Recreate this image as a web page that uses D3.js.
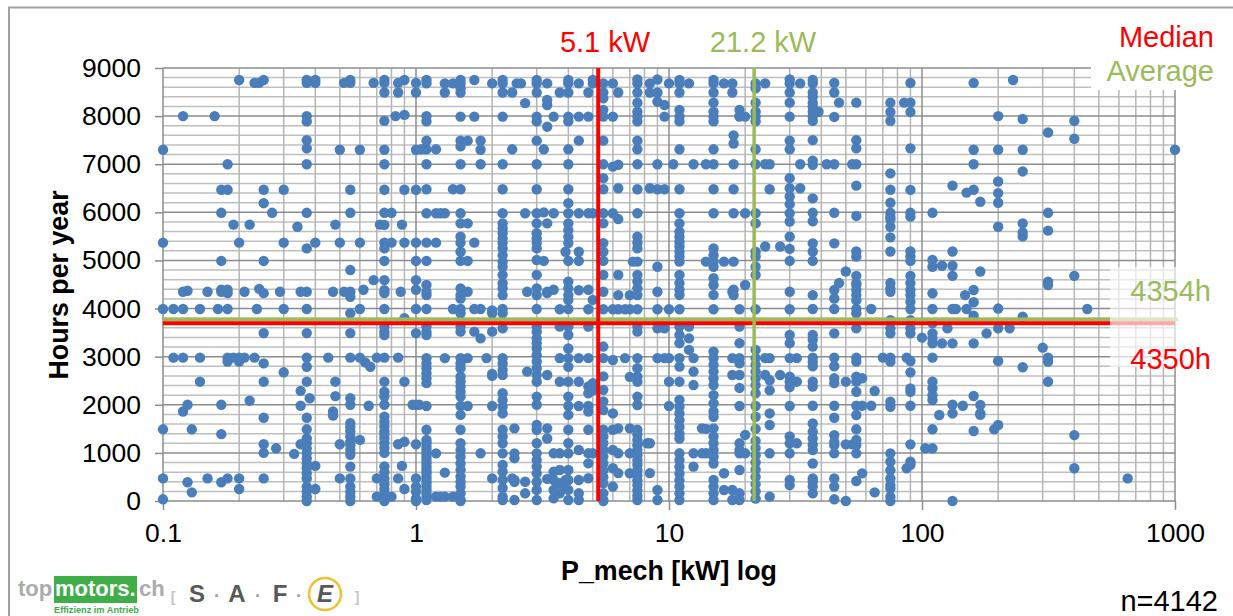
<!DOCTYPE html>
<html>
<head>
<meta charset="utf-8">
<script src="https://d3js.org/d3.v7.min.js"></script>
<style>
  html, body { margin: 0; padding: 0; background: #fff; }
  svg { display: block; }
  text { font-family: "Liberation Sans", Arial, sans-serif; }
  .tick text { fill: #000; font-size: 26.5px; }
  .domain { display: none; }
</style>
</head>
<body>
<svg width="1233" height="616"></svg>
<script>
var yTicks = [0, 1000, 2000, 3000, 4000, 5000, 6000, 7000, 8000, 9000];
var xTicks = [0.1, 1, 10, 100, 1000];
var xTickLabels = ["0.1", "1", "10", "100", "1000"];

var powerKw = [
  0.1, 0.11, 0.12, 0.125, 0.13, 0.14, 0.15, 0.16, 0.165, 0.17,
  0.18, 0.19, 0.2, 0.21, 0.22, 0.23, 0.235, 0.24, 0.25, 0.27,
  0.28, 0.29, 0.3, 0.33, 0.34, 0.35, 0.37, 0.38, 0.4, 0.45,
  0.47, 0.48, 0.5, 0.52, 0.55, 0.6, 0.62, 0.63, 0.65, 0.66,
  0.68, 0.7, 0.72, 0.75, 0.8, 0.83, 0.85, 0.87, 0.88, 0.9,
  0.97, 1, 1.03, 1.05, 1.1, 1.2, 1.25, 1.3, 1.4, 1.5,
  1.6, 1.7, 1.8, 1.9, 2, 2.2, 2.4, 2.45, 2.5, 2.6,
  2.7, 2.75, 3, 3.2, 3.3, 3.5, 3.7, 3.9, 4, 4.4,
  4.8, 5, 5.5, 6, 6.3, 6.7, 7, 7.2, 7.5, 8.2,
  8.4, 9, 9.6, 10, 10.4, 11, 12, 12.5, 13.5, 14,
  15, 16.5, 17.8, 18, 19, 20, 22, 24, 25, 27.5,
  30, 32, 33, 37, 39, 42, 45, 47, 50, 53,
  55, 58, 63, 65, 70, 75, 85, 87, 90, 100,
  103, 110, 117, 120, 126, 132, 136, 145, 148, 150,
  160, 170, 180, 193, 200, 222, 229, 250, 300, 315,
  400, 450, 650, 1000
];

var hoursAtPower = [
  [7300,5370,3990,1490,470,35],
  [3990,2980],
  [8000,4350,3990,2980,1860],
  [4370,2000,390],
  [1490,180],
  [3990,2980,2480],
  [4350,470],
  [8000],
  [3990],
  [6470,5990,4990,4390,4350,2000,1390,390],
  [7000,6470,4390,4320,3990,2980,2900,470],
  [5745,2980],
  [8750,5370,2980,2900,470,250],
  [4350,2980],
  [5745,2085],
  [8690,2980],
  [3990],
  [8690,4410],
  [8750,6470,6190,4990,4320,3490,2860,2480,1730,1180,1000,470],
  [5990],
  [1095],
  [4350],
  [6470,5370,3990,2675],
  [980],
  [5700],
  [4350,2290,1980,1180],
  [8750,8690,8000,7890,7500,7330,7000,5990,5250,4350,3990,3490,2980,2790,2480,1730,1490,1300,1200,1095,990,885,780,680,575,470,300,195,90,0],
  [2135],
  [8750,8690,5370,730,250],
  [2980],
  [4350,1860,1775],
  [5745,2480,2180],
  [7300,5370,1180,470],
  [8690,4350],
  [8750,8690,6470,5990,4800,4350,4245,3900,3490,2980,2135,2000,1615,1540,1450,1340,1230,1160,1060,960,715,470,300,190,90,0],
  [7300,5370,3990,2980,1270],
  [4390],
  [2880],
  [1980],
  [2790],
  [8690,4590],
  [2980,470,90],
  [5745],
  [8750,8690,8490,7900,7300,7000,6470,5990,5740,5370,5250,4990,4590,4380,4320,3990,3620,3520,3450,2980,2480,2270,2170,2000,1750,1650,1550,1450,1380,1300,1200,1100,1000,720,600,470,350,250,150,50,0],
  [5990,5370,90],
  [8000],
  [8690,8490,2980,1180,470],
  [4350],
  [5745,730],
  [8750,8025,6470,5370,3800,2480,1230,250],
  [2000],
  [8690,8490,7300,6470,5370,4990,4590,4390,3990,3490,2000,1180,470,300,190,50,0],
  [2000],
  [7310],
  [8750,8680,8000,7890,7490,7310,7000,6480,5980,5370,4990,4490,4350,4280,3990,3625,3520,3450,2970,2860,2760,2655,2550,2450,1975,1480,1270,1200,1130,1060,990,920,850,780,710,640,575,506,440,370,300,230,160,90,20],
  [7310,5980,5370,990,90],
  [5980,90],
  [8680,8490,5980,2970,590,90],
  [8680,6480,3990,90],
  [8750,8680,8580,8490,7990,7490,7370,7000,6480,5980,5770,5495,5370,5180,4990,4420,4280,4210,3990,3900,3625,3520,2970,2860,2760,2585,2480,2380,2270,2170,1975,1790,1480,1200,1060,920,780,645,506,400,300,160,20,0],
  [7490,5770,4990,4350,2970,1975],
  [8750,7990,5370,3990,3520],
  [7490,7300,7000,3990,3380,991],
  [2970],
  [8680,3960,3900,3520,2640,2600,1975,470],
  [8750,8680,8490,7990,7000,6480,5980,5770,5670,5565,5460,5360,5250,5110,4975,4870,4700,4526,4420,4280,3990,3900,3590,2970,2860,2725,2620,2240,2100,1960,1820,1480,1340,1200,990,750,610,440,270,90,20],
  [8490,7310,470],
  [1510,990,890,440,400,20],
  [8680],
  [8680],
  [8270,5980,400,160],
  [4350,2690],
  [8750,8680,8490,7990,7890,7490,7000,6480,5980,5770,5565,5460,5360,5250,5010,4700,4420,4280,3990,3620,3520,3380,3280,3170,3030,2900,2760,2620,2480,2170,2000,1580,1480,1200,990,850,715,575,400,230,20],
  [7310,4990,6000],
  [8680,8335,8230,7780,5770,4350,4320,2620,1510,1300,460],
  [7990,5980,4390,991,610,437,229,55],
  [8490,3985,3625,2970,2480,991,645,370,160],
  [5180,437,298],
  [8750,8680,8490,7990,7890,7310,7000,6480,6190,5980,5770,5630,5490,5360,4990,4560,4420,4280,4180,3990,3625,3450,3170,2970,2790,2480,2170,1975,1790,1480,1200,991,645,437,230,20],
  [8680,7990,7490,5980,5180,4990,4380,2970,2480,1975,1060,437,160,20],
  [8490,7990,5980,4390,3985,3625,2970,2380,2240,1975,1860,1480,991,783,472],
  [8750,8680,5980,4180,2450,2300,991],
  [8680,8490,8370,8130,7990,7490,7000,6710,6480,5980,5770,5360,5180,4990,4700,4350,3985,3210,2970,2590,2310,2070,1890,1480,1340,1200,1060,920,780,640,500,370,160,20,0],
  [8680,7990,6950,5980,3985,2930,1820,1480,1060,680,300],
  [8490,6990,6500,5860,4700,4280,3985,1510,991,580],
  [3985,2970],
  [4280,3985,1510,991,576,2580],
  [4975],
  [8760,8680,8490,8280,8090,7990,7890,7490,7310,7000,6480,5980,5495,5370,5250,4975,4700,4560,4420,4280,3985,3625,3520,2970,2760,2585,2480,2170,1996,1480,1380,1270,1160,1060,950,850,750,640,530,430,330,220,110,20],
  [1199],
  [8680,8490,6500,1200,580],
  [8760,8490,8300,7000,6480,4870,4350,3985,3590,2970,229,20],
  [8230,7990,6480,3590,2970],
  [8680,3985,2970,2480,1975],
  [7000],
  [8750,8680,8490,8130,7990,7890,7310,6480,5980,5770,5600,5495,5390,5290,5180,5080,4975,4700,4530,4390,4283,3985,3625,3450,3280,2970,2793,2480,2100,1960,1820,1680,1540,1400,1300,991,850,710,570,430,300,160,20],
  [8680,3625,3380,3140],
  [7000,2970,2690,2410,991,715],
  [1510,991],
  [7000,4975,1500,991],
  [8750,8680,8490,8280,8090,7990,7890,7310,7000,6480,5980,5250,5110,4975,4870,4630,4490,4283,3985,3105,2970,2830,2690,2550,2410,2200,2030,1860,1750,1510,1340,1200,1060,920,780,437,300,160,20],
  [8680,4975,576,229],
  [8680,8490,4350,2970,2620,229,20],
  [7600,7430,7000,6480,5980,4975,4390,4280],
  [8130,8000,7990,3985,3625,3280,2970,2860,2620,2350,1975,1199,1061,991,645,160,20],
  [7990,5980,4490,1373,991],
  [8680,8580,8280,8090,7990,7890,7310,7000,5980,5770,5180,5080,4870,4700,3985,3140,2970,2830,2690,2550,2410,2240,1975,1750,1500,1250,1100,950,800,650,500,350,200,50],
  [8680,7000,5290,2970,2620],
  [7000,6480,2970,2510,2300,1820,1580,991,90],
  [5290,2620],
  [8760,8680,8490,8280,7990,7490,7310,6710,6500,6330,6170,5980,5810,5495,5240,4990,4350,3985,3450,3280,2970,2585,2480,2370,1975,1340,1199,991,440,330],
  [2970,2480,1199],
  [8680,7000,6500],
  [8750,8680,8490,8400,8280,8200,8090,7990,7900,7500,7075,6985,6290,5990,5815,5355,5185,4990,4280,3990,3450,3350,3210,2980,2890,2800,2480,2380,1980,1610,1440,1300,1170,1060,780,470,400,300,160],
  [8090],
  [7000],
  [8690,8490,7983,7000,5990,5355,4386,4210,3990,3485,2980,2800,2550,2450,1980,1730,1370,1230,1160,990,470,300,35],
  [8280,4530],
  [4770,2480,1177,0],
  [7000,1177],
  [8280,7500,7330,7000,6555,5925,5185,5080,4680,4530,4490,4386,4280,4170,3990,3900,3590,2980,2896,2585,2480,2270,1980,1787,1490,1270,1163,990,415],
  [2550,1980,575],
  [1980,3990],
  [2286,180],
  [2980],
  [8280,8087,7900,6810,6470,6200,5990,5910,5850,5700,5480,5185,4530,4420,4350,3760,3590,3485,2980,2896,2065,1960,990,817,640,470,330,260,90,0],
  [8280],
  [2980,680],
  [8690,8280,8087,7330,6466,5990,5910,5185,5080,4990,4680,4530,4386,4280,4140,3990,3760,3590,3485,2910,2674,2340,2270,1980,1177,817,750],
  [3395],
  [1095],
  [5990,5010,4870,4317,3990,3693,3485,3380,3277,2980,2480,2340,2200,2100,1490,1095],
  [1787],
  [4890,3277],
  [3590],
  [6555,5185,4890,4680,3990,3277,2000,1820,0],
  [3990],
  [1980],
  [4280],
  [6410,3990],
  [8690,7300,7000,6470,4386,4130,3850,3277,2182,1455],
  [6220,4770,1995,1820,1790],
  [3485],
  [1490],
  [8000,7300,6640,6400,6200,5700,4000,3590,2910,1580],
  [3590],
  [8750],
  [7940,7300,6850,5770,5580,5500,3830,2780],
  [3187],
  [7660,5990,5620,4560,4490,2980,2896,2480],
  [7900,7530,4680,1370,680],
  [3990],
  [470],
  [7300]
];

var medianPower = 5.25, averagePower = 21.7;
var averageHours = 3773, medianHours = 3694;

var svg = d3.select("svg");

var x = d3.scaleLog().domain([0.1, 1000]).range([163, 1175]);
var y = d3.scaleLinear().domain([0, 9000]).range([501, 68]);

// one point per column entry
var points = [];
powerKw.forEach(function(p, i) {
  hoursAtPower[i].forEach(function(h) { points.push({ p: p, h: h }); });
});

// outer frame, only top and left fall inside the picture
svg.append("path")
    .attr("d", "M9,616V7.5H1233")
    .attr("fill", "none")
    .attr("stroke", "#a0a0a0")
    .attr("stroke-width", 2);

// minor grid
var xMinor = [];
[0.1, 1, 10, 100].forEach(function(d) {
  [2, 3, 4, 5, 6, 7, 8, 9].forEach(function(m) { xMinor.push(d * m); });
});
var yMinor = d3.range(200, 9000, 200).filter(function(d) { return d % 1000 != 0; });

svg.append("g").selectAll("line")
    .data(yMinor)
    .enter().append("line")
      .attr("x1", x(0.1)).attr("x2", x(1000))
      .attr("y1", function(d) { return y(d); })
      .attr("y2", function(d) { return y(d); })
      .attr("stroke", "#bfbfbf")
      .attr("stroke-width", 1.5);

svg.append("g").selectAll("line")
    .data(xMinor)
    .enter().append("line")
      .attr("x1", function(d) { return x(d); })
      .attr("x2", function(d) { return x(d); })
      .attr("y1", y(9000)).attr("y2", y(0))
      .attr("stroke", "#b5b5b5")
      .attr("stroke-width", 1.5);

// axes, their tick lines double as the major grid
var yAxis = svg.append("g")
    .attr("transform", "translate(163,0)")
    .call(d3.axisLeft(y).tickValues(yTicks).tickFormat(d3.format("d")).tickSize(8).tickPadding(14));
var xAxis = svg.append("g")
    .attr("transform", "translate(0,501)")
    .call(d3.axisBottom(x).tickValues(xTicks)
      .tickFormat(function(d, i) { return xTickLabels[i]; })
      .tickSize(9).tickPadding(13));

yAxis.selectAll(".tick line").attr("stroke", "#8c8c8c").attr("stroke-width", 1.5);
xAxis.selectAll(".tick line").attr("stroke", "#8c8c8c").attr("stroke-width", 1.5);

svg.append("g").selectAll("line")
    .data(yTicks)
    .enter().append("line")
      .attr("x1", x(0.1)).attr("x2", x(1000))
      .attr("y1", function(d) { return y(d); })
      .attr("y2", function(d) { return y(d); })
      .attr("stroke", "#8c8c8c")
      .attr("stroke-width", 1.5);

svg.append("g").selectAll("line")
    .data(xTicks)
    .enter().append("line")
      .attr("x1", function(d) { return x(d); })
      .attr("x2", function(d) { return x(d); })
      .attr("y1", y(9000)).attr("y2", y(0))
      .attr("stroke", "#8c8c8c")
      .attr("stroke-width", 1.5);

// scatter
svg.append("g").selectAll("circle")
    .data(points)
    .enter().append("circle")
      .attr("cx", function(d) { return x(d.p); })
      .attr("cy", function(d) { return y(d.h); })
      .attr("r", 5.2)
      .attr("fill", "#4a7ebb");

// median and average
var refLines = [
  { x1: 0.1, x2: 1030, y1: averageHours, y2: averageHours, color: "#9bbb59", w: 4 },
  { x1: 0.1, x2: 1000, y1: medianHours, y2: medianHours, color: "#ff0000", w: 4 },
  { x1: averagePower, x2: averagePower, y1: 0, y2: 9000, color: "#9bbb59", w: 3.5 },
  { x1: medianPower, x2: medianPower, y1: 0, y2: 9000, color: "#ff0000", w: 4 }
];
svg.append("g").selectAll("line")
    .data(refLines)
    .enter().append("line")
      .attr("x1", function(d) { return x(d.x1); })
      .attr("x2", function(d) { return x(d.x2); })
      .attr("y1", function(d) { return y(d.y1); })
      .attr("y2", function(d) { return y(d.y2); })
      .attr("stroke", function(d) { return d.color; })
      .attr("stroke-width", function(d) { return d.w; });

// white label boxes lying over the plot
svg.append("rect").attr("x", 1091).attr("y", 55).attr("width", 142).attr("height", 35).attr("fill", "#fff");
svg.append("rect").attr("x", 1110).attr("y", 267).attr("width", 123).attr("height", 100)
    .attr("fill", "#fff").attr("fill-opacity", 0.65);

var labels = [
  { t: "5.1 kW", x: 605, y: 52, c: "#ff0000", a: "middle" },
  { t: "21.2 kW", x: 763, y: 52, c: "#9bbb59", a: "middle" },
  { t: "Median", x: 1214, y: 47, c: "#ff0000", a: "end" },
  { t: "Average", x: 1214, y: 81, c: "#9bbb59", a: "end" },
  { t: "4354h", x: 1211, y: 301, c: "#9bbb59", a: "end" },
  { t: "4350h", x: 1211, y: 369, c: "#ff0000", a: "end" },
  { t: "n=4142", x: 1218, y: 611, c: "#000", a: "end" }
];
svg.append("g").selectAll("text")
    .data(labels)
    .enter().append("text")
      .attr("x", function(d) { return d.x; })
      .attr("y", function(d) { return d.y; })
      .attr("fill", function(d) { return d.c; })
      .attr("text-anchor", function(d) { return d.a; })
      .style("font-size", "29px")
      .text(function(d) { return d.t; });

svg.append("text")
    .attr("x", 669).attr("y", 580)
    .attr("text-anchor", "middle")
    .style("font-size", "26.8px").style("font-weight", "bold")
    .text("P_mech [kW] log");

svg.append("text")
    .attr("transform", "translate(68,285) rotate(-90)")
    .attr("text-anchor", "middle")
    .style("font-size", "26.8px").style("font-weight", "bold")
    .text("Hours per year");

// logos bottom left
var logo = svg.append("g");
logo.append("rect").attr("x", 54).attr("y", 576).attr("width", 83).attr("height", 27).attr("fill", "#3fae49");
var logoName = [
  { t: "top", x: 18, c: "#a9abae" },
  { t: "motors.", x: 55, c: "#fff" },
  { t: "ch", x: 139, c: "#a9abae" }
];
logo.selectAll(".name")
    .data(logoName)
    .enter().append("text")
      .attr("x", function(d) { return d.x; })
      .attr("y", 596)
      .attr("fill", function(d) { return d.c; })
      .style("font-size", "22px")
      .style("font-weight", "bold")
      .text(function(d) { return d.t; });
logo.append("text").attr("x", 54).attr("y", 612.5)
    .attr("fill", "#3fae49")
    .style("font-size", "9.2px").style("font-weight", "bold").text("Effizienz im Antrieb");

var safe = [
  { t: "[", x: 173, c: "#c4c4c4", s: 14 }, { t: "S", x: 197, c: "#58595b", s: 24 },
  { t: "·", x: 217, c: "#a0a0a0", s: 18 }, { t: "A", x: 237, c: "#58595b", s: 24 },
  { t: "·", x: 258, c: "#a0a0a0", s: 18 }, { t: "F", x: 280, c: "#58595b", s: 24 },
  { t: "·", x: 299, c: "#a0a0a0", s: 18 }, { t: "]", x: 357, c: "#c4c4c4", s: 14 }
];
logo.selectAll(".safe")
    .data(safe)
    .enter().append("text")
      .attr("x", function(d) { return d.x; })
      .attr("y", 602)
      .attr("text-anchor", "middle")
      .attr("fill", function(d) { return d.c; })
      .style("font-size", function(d) { return d.s + "px"; })
      .style("font-weight", "bold")
      .text(function(d) { return d.t; });
logo.append("circle").attr("cx", 325).attr("cy", 594).attr("r", 16)
    .attr("fill", "#fff").attr("stroke", "#eec22f").attr("stroke-width", 2.5);
logo.append("text").attr("x", 325).attr("y", 602).attr("text-anchor", "middle")
    .attr("fill", "#58595b").style("font-size", "24px").style("font-weight", "bold")
    .style("font-style", "italic").text("E");
</script>
</body>
</html>
